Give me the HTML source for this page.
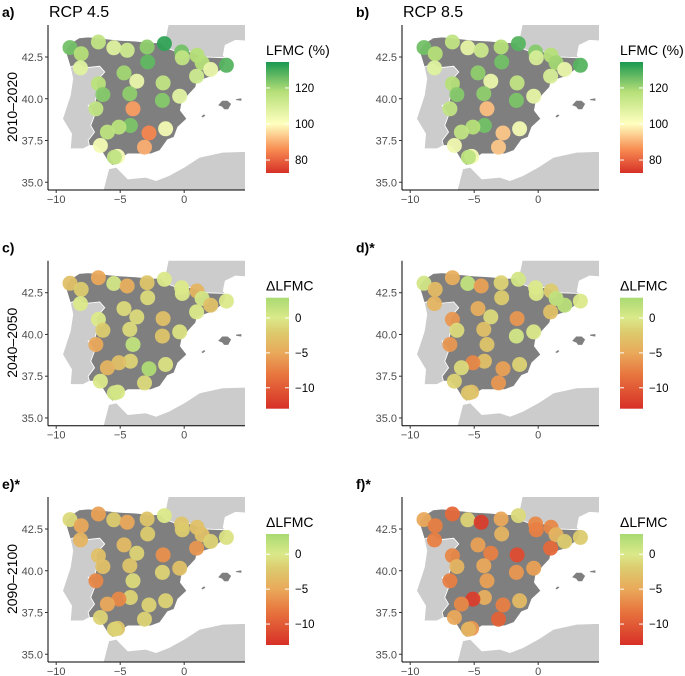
<!DOCTYPE html>
<html><head><meta charset="utf-8"><style>
html,body{margin:0;padding:0;background:#fff}
svg{display:block;font-family:"Liberation Sans",sans-serif}
</style></head><body>
<svg id="fig" width="685" height="676" viewBox="0 0 685 676"></svg>
<script>
// ---- data ----
const stationLon = [-8.92,-8.05,-8.1,-6.7,-5.5,-4.45,-2.9,-1.55,-2.85,-0.2,-0.15,1.0,1.4,2.07,3.3,0.97,-4.7,-3.7,-1.65,-6.7,-6.35,-4.25,-0.35,-1.7,-6.9,-4.0,-4.2,-5.1,-6.0,-2.75,-1.45,-6.55,-3.1,-5.2,-5.45];
const stationLat = [43.06,42.7,41.85,43.4,43.05,42.9,43.1,43.3,42.2,42.8,42.45,42.6,42.15,41.75,42.0,41.35,41.55,41.05,40.95,40.9,40.25,40.3,40.15,39.9,39.4,39.4,38.4,38.3,38.0,37.95,38.2,37.2,37.1,36.55,36.5];
const valuesA = [125,118,108,115,108,112,122,132,127,125,115,118,118,105,128,112,120,105,115,117,123,122,107,123,115,88,124,117,116,85,103,103,90,102,115];
const valuesB = [125,118,108,115,106,113,118,128,125,123,110,118,120,105,128,110,122,105,115,118,123,122,106,124,115,92,125,118,115,93,103,104,93,103,116];
const valuesC = [-3,-2,0,-5,0.5,-4.5,-2.5,0,-1,0,0,-4,0.5,-3,0,0,-1,-1,-3,0,-2,-1,-0.5,-2.5,-5,1.5,-1.5,-3,-4,2.5,-0.5,0,-1,0,0.5];
const valuesD = [0.5,-3.5,-4,-4.5,1.5,-5.5,-1.5,0.5,-2,0,0,-2,1.5,2,0,-3,-4.5,-1,-6,-6,-1,-3,0,0.5,-6,-2.5,-3,-7,-1,-5.5,-1.5,-1.5,-6,-3,-2.5];
const valuesE = [-1,-5,-4,-5.5,-2,-5,-2.5,0,-2,-2.5,-2,-3,-3,-1.5,-0.5,-6,-3.5,-1.5,-6.5,-3,-3,-2.5,-3,-1.5,-7,-1,-1.5,-7,-5,-1.5,-1.5,-1.5,-1.5,-2.5,-1.5];
const valuesF = [-5,-7.5,-7.5,-9,-1.5,-12,-5,-1,-4,-7,-7.5,-7,-4,-2,-2,-9,-5.5,-7.5,-11,-7,-4,-5,-5.5,-6,-7.5,-5.5,-4.5,-12,-7,-7.5,-3.5,-5,-9.5,-6,-4];
const xTicks = [-10,-5,0];
const yTicks = [35.0,37.5,40.0,42.5];
const lfmcTicks = [80,100,120];
const deltaTicks = [-10,-5,0];

// ---- geometry ----
const NS='http://www.w3.org/2000/svg';
const svg=document.getElementById('fig');
function mk(tag,attrs,parent){const e=document.createElementNS(NS,tag);for(const k in attrs)e.setAttribute(k,attrs[k]);(parent||svg).appendChild(e);return e;}
const COLX=[0,354], ROWY=[0,235.7,472];
function xs(ox,lon){return ox+184.2+lon*12.8;}
function ys(oy,lat){return oy+57-(lat-42.5)*16.7;}
function hex(c){return [parseInt(c.slice(1,3),16),parseInt(c.slice(3,5),16),parseInt(c.slice(5,7),16)];}
function interp(stops,v){
  if(v<=stops[0][0])return stops[0][1];
  for(let i=1;i<stops.length;i++){if(v<=stops[i][0]){const t=(v-stops[i-1][0])/(stops[i][0]-stops[i-1][0]);const a=hex(stops[i-1][1]),b=hex(stops[i][1]);return 'rgb('+a.map((x,j)=>Math.round(x+(b[j]-x)*t)).join(',')+')';}}
  return stops[stops.length-1][1];
}
const lfmcStops=[[72.8,'#d73027'],[86,'#f88d52'],[100,'#ffffbf'],[118,'#b5df78'],[134.4,'#1a9850']];
const deltaStops=[[-13,'#d73027'],[-8,'#e8773f'],[-5,'#e9a95b'],[-2,'#dccb6e'],[0,'#dbe98a'],[2.9,'#a9da72']];

const spain=[[-9.3,42.9],[-8.9,43.3],[-8.2,43.65],[-7.5,43.7],[-6.0,43.58],[-5.0,43.5],[-3.8,43.45],[-2.5,43.35],[-1.8,43.38],[-1.4,43.05],[-0.7,42.85],[0.7,42.8],[1.5,42.5],[3.2,42.45],[3.2,42.1],[3.0,41.8],[2.2,41.35],[1.0,41.05],[0.9,40.7],[0.3,40.2],[-0.2,39.7],[-0.3,39.3],[0.2,38.8],[-0.5,38.3],[-0.8,37.7],[-1.3,37.55],[-1.9,36.9],[-2.6,36.7],[-3.5,36.7],[-4.4,36.7],[-5.0,36.4],[-5.6,36.0],[-6.0,36.3],[-6.4,36.8],[-6.9,37.2],[-7.4,37.2],[-7.5,37.5],[-7.0,38.0],[-7.3,38.4],[-7.0,39.0],[-7.5,39.6],[-7.0,39.7],[-6.8,40.3],[-6.9,41.0],[-6.2,41.6],[-6.6,41.95],[-7.9,41.85],[-8.2,42.1],[-8.9,41.9]];
const portugal=[[-8.9,41.9],[-8.2,42.1],[-7.9,41.85],[-6.6,41.95],[-6.2,41.6],[-6.9,41.0],[-6.8,40.3],[-7.0,39.7],[-7.5,39.6],[-7.0,39.0],[-7.3,38.4],[-7.0,38.0],[-7.5,37.5],[-7.4,37.2],[-7.9,37.0],[-8.9,37.0],[-8.8,37.9],[-9.5,38.8],[-8.9,40.2],[-8.7,41.2]];
const france=[[-1.8,43.38],[-1.5,43.5],[-1.2,44.6],[5,44.6],[5,43.45],[4.0,43.5],[3.2,43.2],[3.05,42.6],[3.2,42.45],[1.5,42.5],[0.7,42.8],[-0.7,42.85],[-1.4,43.05]];
const africa=[[-6.4,34.3],[-5.9,35.8],[-5.3,35.9],[-4.4,35.2],[-3.0,35.3],[-2.2,35.1],[-1.2,35.4],[0,35.9],[1.2,36.5],[3,36.8],[4.9,36.85],[4.9,34.3]];
const mallorca=[[2.6,39.6],[2.95,39.9],[3.4,39.9],[3.7,39.7],[3.45,39.35],[3.1,39.35],[2.95,39.5]];
const menorca=[[4.0,40.0],[4.5,40.05],[4.5,39.85],[4.05,39.9]];
const ibiza=[[1.3,38.95],[1.55,39.1],[1.7,39.0],[1.45,38.85]];

const panels=[
 {tag:'a)',title:'RCP 4.5',vals:valuesA,lfmc:true},
 {tag:'b)',title:'RCP 8.5',vals:valuesB,lfmc:true},
 {tag:'c)',title:'',vals:valuesC,lfmc:false},
 {tag:'d)*',title:'',vals:valuesD,lfmc:false},
 {tag:'e)*',title:'',vals:valuesE,lfmc:false},
 {tag:'f)*',title:'',vals:valuesF,lfmc:false}];
const rowLabels=['2010\u20132020','2040\u20132050','2090\u20132100'];

const defs=mk('defs',{});
function grad(id,stops,vmin,vmax){
  const g=mk('linearGradient',{id:id,x1:0,y1:1,x2:0,y2:0},defs);
  stops.forEach(s=>mk('stop',{offset:((s[0]-vmin)/(vmax-vmin)).toFixed(3),'stop-color':s[1]},g));
}
grad('gL',lfmcStops,72.8,134.4);
grad('gD',deltaStops,-13,2.9);

panels.forEach((p,i)=>{
  const ox=COLX[i%2], oy=ROWY[Math.floor(i/2)];
  const g=mk('g',{});
  
  
  const cid='clip'+i;
  const cp=mk('clipPath',{id:cid},defs);
  mk('rect',{x:ox+48,y:oy+25,width:197,height:165},cp);
  const mg=mk('g',{'clip-path':'url(#'+cid+')'},g);
  
  
  const poly=(pts,fill,name)=>{const e=mk('polygon',{points:pts.map(q=>xs(ox,q[0]).toFixed(1)+','+ys(oy,q[1]).toFixed(1)).join(' '),fill:fill,stroke:'#fff','stroke-width':0.8},mg);};
  poly(france,'#cccccc','france');
  poly(africa,'#cccccc','africa');
  poly(portugal,'#cccccc','portugal');
  poly(spain,'#7f7f7f','spain');
  poly(mallorca,'#7f7f7f','mallorca');
  poly(menorca,'#7f7f7f','menorca');
  poly(ibiza,'#7f7f7f','ibiza');
  const stops=p.lfmc?lfmcStops:deltaStops;
  stationLon.forEach((lon,k)=>{
    const c=mk('circle',{cx:xs(ox,lon).toFixed(1),cy:ys(oy,stationLat[k]).toFixed(1),r:7.5,fill:interp(stops,p.vals[k]),'fill-opacity':0.95},g);
    
    
  });
  // axes
  mk('line',{x1:ox+48,y1:oy+25,x2:ox+48,y2:oy+190,stroke:'#000','stroke-width':1},g);
  mk('line',{x1:ox+48,y1:oy+190,x2:ox+245,y2:oy+190,stroke:'#000','stroke-width':1},g);
  xTicks.forEach(t=>{const x=xs(ox,t);mk('line',{x1:x,y1:oy+190,x2:x,y2:oy+193,stroke:'#333'},g);
    const tx=mk('text',{x:x,y:oy+203,'font-size':11,fill:'#4d4d4d','text-anchor':'middle'},g);tx.textContent=(t<0?'\u2212'+(-t):t);
    });
  yTicks.forEach(t=>{const y=ys(oy,t);mk('line',{x1:ox+45,y1:y,x2:ox+48,y2:y,stroke:'#333'},g);
    const tx=mk('text',{x:ox+43,y:y+4,'font-size':11,fill:'#4d4d4d','text-anchor':'end'},g);tx.textContent=t.toFixed(1);
    });
  const tg=mk('text',{x:ox+2,y:oy+17,'font-size':14,'font-weight':'bold',fill:'#000'},g);tg.textContent=p.tag;
  
  if(p.title){const tt=mk('text',{x:ox+49,y:oy+17,'font-size':16,fill:'#000'},g);tt.textContent=p.title;
    }
  if(i%2===0){const rl=mk('text',{x:0,y:0,'font-size':14,fill:'#000','text-anchor':'middle',transform:'translate(17,'+(oy+107)+') rotate(-90)'},g);rl.textContent=rowLabels[i/2];
    }
  // legend
  const lx=ox+266, ly=oy+62, lh=111;
  const lt=mk('text',{x:lx,y:oy+55,'font-size':14,fill:'#000'},g);lt.textContent=p.lfmc?'LFMC (%)':'\u0394LFMC';
  
  const bar=mk('rect',{x:lx,y:ly,width:23,height:lh,fill:p.lfmc?'url(#gL)':'url(#gD)'},g);
  
  const vmin=p.lfmc?72.8:-13, vmax=p.lfmc?134.4:2.9;
  (p.lfmc?lfmcTicks:deltaTicks).forEach(t=>{const y=ly+lh*(vmax-t)/(vmax-vmin);
    mk('line',{x1:lx,y1:y,x2:lx+4,y2:y,stroke:'#fff','stroke-width':1},g);
    mk('line',{x1:lx+19,y1:y,x2:lx+23,y2:y,stroke:'#fff','stroke-width':1},g);
    const tx=mk('text',{x:lx+29,y:y+4,'font-size':11.5,fill:'#000'},g);tx.textContent=(t<0?'\u2212'+(-t):t);
    });
});
</script>
</body></html>
